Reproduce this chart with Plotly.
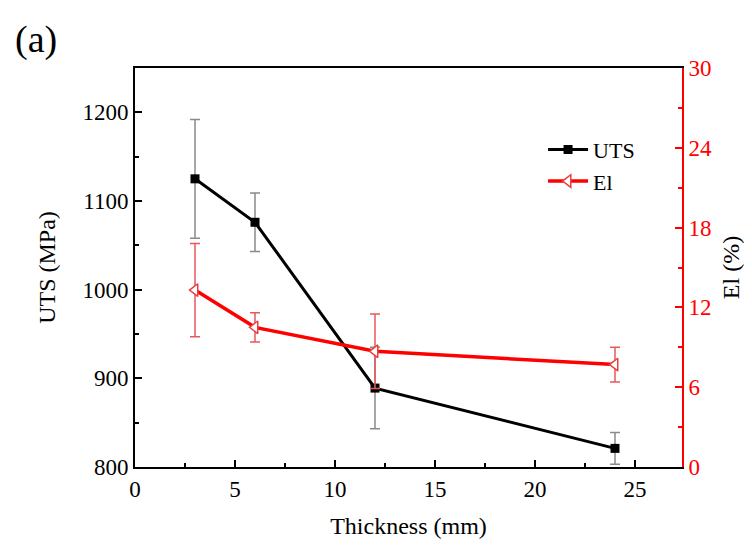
import plotly.graph_objects as go

thickness = [3, 6, 12, 24]
uts = [1125, 1076, 889, 821]
uts_err = [67, 33, 46, 18]
el = [13.3, 10.5, 8.7, 7.7]
el_err = [3.5, 1.1, 2.8, 1.3]

FONT = "Liberation Serif, Times New Roman, serif"

L, R, T, B = 127, 78, 60, 86
W, H = 752, 545
PW, PH = W - L - R, H - T - B

fig = go.Figure()
fig.add_trace(go.Scatter(
    x=thickness, y=uts, name="UTS", mode="lines+markers",
    line=dict(color="black", width=3),
    marker=dict(symbol="square", size=9, color="black"),
    error_y=dict(type="data", array=uts_err, color="#8a8a8a", thickness=1.5, width=5),
    yaxis="y",
))
fig.add_trace(go.Scatter(
    x=thickness, y=el, name="El", mode="lines+markers",
    line=dict(color="#ff0000", width=3.5),
    marker=dict(symbol="triangle-left", size=11, color="white",
                line=dict(color="#e84040", width=1.5)),
    error_y=dict(type="data", array=el_err, color="#e85a5a", thickness=1.5, width=5),
    yaxis="y2",
))

fig.update_layout(
    width=W, height=H,
    margin=dict(l=L, r=R, t=T, b=B),
    paper_bgcolor="white", plot_bgcolor="white",
    font=dict(family=FONT, size=23, color="black"),
    showlegend=True,
    legend=dict(x=0.746, y=0.848, xanchor="left", yanchor="top",
                bgcolor="rgba(0,0,0,0)", font=dict(size=22, family=FONT),
                itemwidth=40, tracegroupgap=0),
    xaxis=dict(
        range=[0, 27.35], dtick=5, tick0=0,
        showline=True, linecolor="black", linewidth=2, mirror=True,
        ticks="inside", ticklen=7, tickwidth=1.5, tickcolor="black",
        minor=dict(ticks="inside", ticklen=4, dtick=2.5, tickcolor="black", tickwidth=1.5),
        showgrid=False, zeroline=False,
        title=dict(text="Thickness (mm)", font=dict(size=24), standoff=17),
        tickfont=dict(size=23),
    ),
    yaxis=dict(
        range=[800, 1250], dtick=100, tick0=800,
        showline=True, linecolor="black", linewidth=2,
        ticks="inside", ticklen=7, tickwidth=1.5, tickcolor="black",
        minor=dict(ticks="inside", ticklen=4, dtick=50, tickcolor="black", tickwidth=1.5),
        showgrid=False, zeroline=False,
        title=dict(text="UTS (MPa)", font=dict(size=24), standoff=20),
        tickfont=dict(size=23),
    ),
    yaxis2=dict(
        range=[0, 30], dtick=6, tick0=0,
        overlaying="y", side="right", anchor="x",
        showline=True, linecolor="#ff0000", linewidth=2,
        ticks="inside", ticklen=7, tickwidth=1.5, tickcolor="#ff0000",
        minor=dict(ticks="inside", ticklen=4, dtick=3, tickcolor="#ff0000", tickwidth=1.5),
        showgrid=False, zeroline=False,
        title=dict(text="El (%)", font=dict(size=24, color="black"), standoff=11),
        tickfont=dict(size=23, color="#ff0000"),
    ),
    annotations=[dict(text="(a)", x=(5 - L) / PW, y=(H - B - 31) / PH,
                      xref="paper", yref="paper",
                      showarrow=False, font=dict(size=38, family=FONT),
                      xanchor="left", yanchor="middle")],
)

fig.write_html("out.html")
